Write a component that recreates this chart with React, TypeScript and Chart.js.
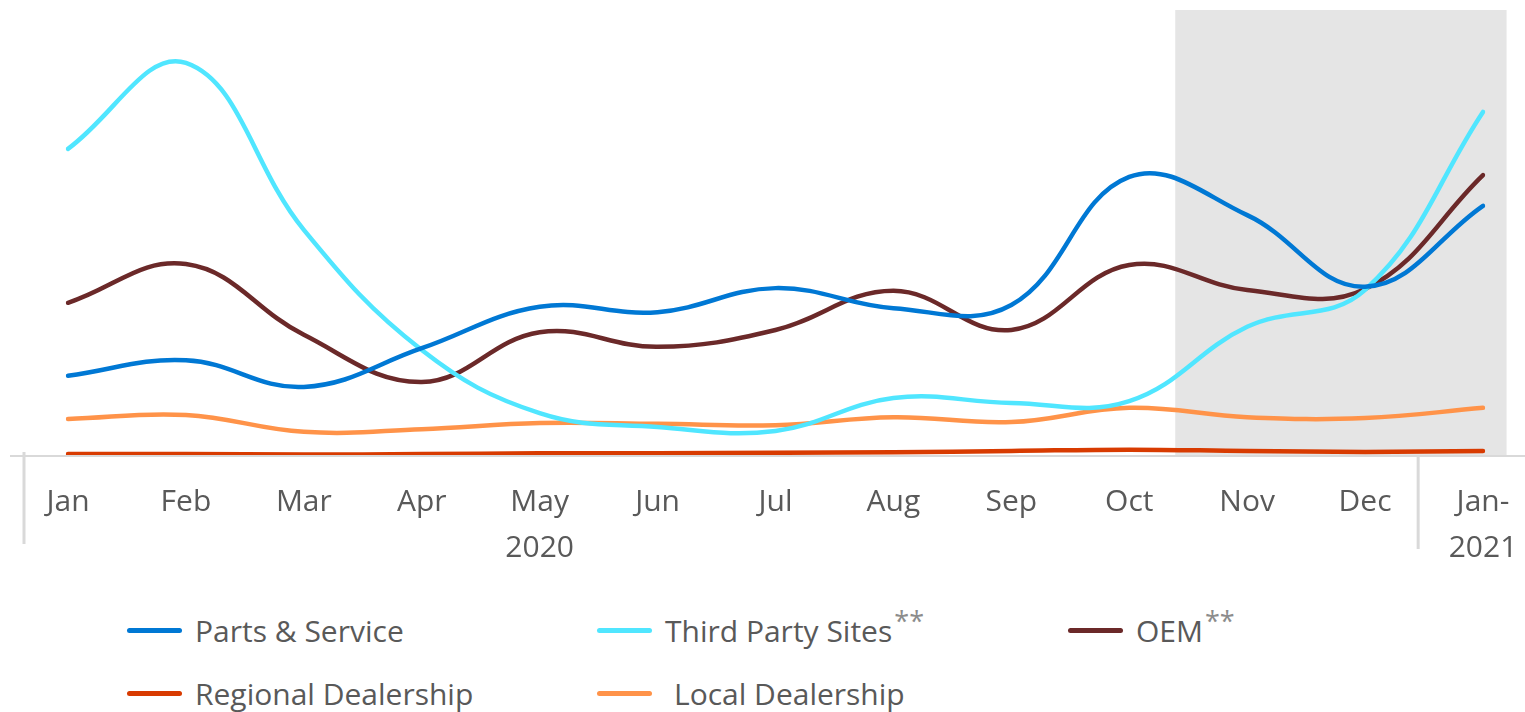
import React, { useEffect, useRef } from "react";
import { Chart, registerables } from "chart.js";

Chart.register(...registerables);

const categories: (string | string[])[] = [
  "Jan", "Feb", "Mar", "Apr", ["May", "2020"], "Jun", "Jul", "Aug", "Sep", "Oct", "Nov", "Dec", ["Jan-", "2021"],
];

const partsService = [17.8, 21.3, 15.3, 24.0, 33.3, 32.1, 37.5, 33.0, 33.7, 62.5, 53.9, 37.8, 56.0];
const thirdParty = [68.8, 88.1, 50.6, 23.6, 9.4, 6.3, 5.4, 12.8, 11.7, 12.1, 28.8, 37.1, 77.1];
const oem = [34.2, 42.9, 27.0, 16.4, 27.6, 24.3, 28.1, 36.9, 28.1, 42.7, 37.1, 37.3, 62.9];
const regional = [0.2, 0.2, 0.1, 0.2, 0.4, 0.4, 0.5, 0.6, 0.9, 1.2, 0.9, 0.7, 0.9];
const local = [8.1, 9.0, 5.2, 5.8, 7.2, 7.0, 6.7, 8.5, 7.4, 10.6, 8.5, 8.3, 10.6];

const seriesNames = ["Parts & Service", "Third Party Sites", "OEM", "Regional Dealership", "Local Dealership"];
const seriesColors = ["#0078D4", "#50E6FF", "#6B2929", "#D83B01", "#FF9349"];

const FONT = "'Open Sans', 'Noto Sans', sans-serif";
const TEXT = "#595959";

const decorPlugin = {
  id: "decor",
  beforeDatasetsDraw(chart: any) {
    const { ctx, chartArea, scales } = chart;
    const x = scales.x;
    const step = x.getPixelForValue(1) - x.getPixelForValue(0);
    const left = x.getPixelForValue(10) - 0.61 * step;
    const right = x.getPixelForValue(12) + 0.2 * step;
    ctx.save();
    ctx.fillStyle = "#E5E5E5";
    ctx.fillRect(left, chartArea.top, right - left, chartArea.bottom - chartArea.top);
    // axis line
    ctx.strokeStyle = "#D9D9D9";
    ctx.lineWidth = 2;
    ctx.beginPath();
    ctx.moveTo(10, chartArea.bottom + 1);
    ctx.lineTo(chart.width, chartArea.bottom + 1);
    ctx.stroke();
    // left tick
    ctx.lineWidth = 3;
    ctx.beginPath();
    ctx.moveTo(24, chartArea.bottom - 3);
    ctx.lineTo(24, chartArea.bottom + 89);
    ctx.stroke();
    // year separator
    const sep = x.getPixelForValue(11) + 0.45 * step;
    ctx.beginPath();
    ctx.moveTo(sep, chartArea.bottom + 1);
    ctx.lineTo(sep, chartArea.bottom + 94);
    ctx.stroke();
    ctx.restore();
  },
};

function LegendItem({ name, color, stars, lead }: { name: string; color: string; stars?: boolean; lead?: number }) {
  return (
    <div style={{ display: "flex", alignItems: "center", whiteSpace: "nowrap" }}>
      <div style={{ width: 55, height: 5, borderRadius: 3, background: color, marginRight: 13 + (lead || 0) }} />
      <span style={{ color: TEXT, fontSize: 30, fontFamily: FONT }}>
        {name}
        {stars ? (
          <span style={{ color: "#8C8C8C", fontSize: 27, position: "relative", top: -11, marginLeft: 2 }}>**</span>
        ) : null}
      </span>
    </div>
  );
}

export default function App() {
  const canvasRef = useRef<HTMLCanvasElement | null>(null);

  useEffect(() => {
    document.body.style.margin = "0";
    const data = [partsService, thirdParty, oem, regional, local];
    const chart = new Chart(canvasRef.current as HTMLCanvasElement, {
      type: "line",
      data: {
        labels: categories as any,
        datasets: data.map((d, i) => ({
          label: seriesNames[i],
          data: d,
          borderColor: seriesColors[i],
          backgroundColor: seriesColors[i],
          borderWidth: 4.5,
          pointRadius: 0,
          tension: 0.4,
          borderCapStyle: "round" as const,
          fill: false,
        })),
      },
      options: {
        animation: false,
        responsive: false,
        maintainAspectRatio: false,
        layout: { padding: { left: 68, right: 42, top: 10, bottom: 25 } },
        plugins: { legend: { display: false }, tooltip: { enabled: false } },
        scales: {
          x: {
            offset: false,
            grid: { display: false, drawTicks: false },
            border: { display: false },
            ticks: {
              color: TEXT,
              font: { family: FONT, size: 30, lineHeight: 1.55 },
              padding: 24,
              maxRotation: 0,
              autoSkip: false,
            },
            afterFit: (scale: any) => {
              scale.height = 120;
              scale.paddingLeft = 0;
              scale.paddingRight = 0;
            },
          },
          y: {
            display: false,
            min: 0,
            max: 100,
          },
        },
      },
      plugins: [decorPlugin],
    });
    return () => chart.destroy();
  }, []);

  return (
    <div style={{ position: "absolute", left: 0, top: 0, width: 1525, height: 712, background: "#fff", overflow: "hidden" }}>
      <canvas ref={canvasRef} width={1525} height={600} style={{ position: "absolute", left: 0, top: 0 }} />
      <div style={{ position: "absolute", left: 127, top: 610 }}>
        <LegendItem name={seriesNames[0]} color={seriesColors[0]} />
      </div>
      <div style={{ position: "absolute", left: 597, top: 610 }}>
        <LegendItem name={seriesNames[1]} color={seriesColors[1]} stars />
      </div>
      <div style={{ position: "absolute", left: 1068, top: 610 }}>
        <LegendItem name={seriesNames[2]} color={seriesColors[2]} stars />
      </div>
      <div style={{ position: "absolute", left: 127, top: 673 }}>
        <LegendItem name={seriesNames[3]} color={seriesColors[3]} />
      </div>
      <div style={{ position: "absolute", left: 597, top: 673 }}>
        <LegendItem name={seriesNames[4]} color={seriesColors[4]} lead={9} />
      </div>
    </div>
  );
}
